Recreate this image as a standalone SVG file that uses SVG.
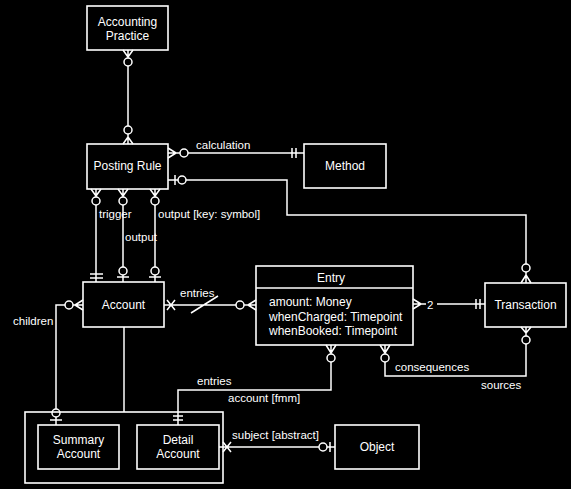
<svg xmlns="http://www.w3.org/2000/svg" width="571" height="489" viewBox="0 0 571 489">
<style>
.bx{fill:none;stroke:#fff;stroke-width:1.6}
.ln{fill:none;stroke:#fff;stroke-width:1.5}
.c{fill:#000;stroke:#fff;stroke-width:1.5}
text{font-family:"Liberation Sans",Arial,sans-serif;fill:#fff}
.t{font-size:12px;text-anchor:middle}
.a{font-size:12px}
.l{font-size:11.5px}
</style>
<rect width="571" height="489" fill="#000"/>
<g id="connectors">
<!-- Accounting Practice - Posting Rule -->
<path class="ln" d="M128 50V126M128 57L123 50M128 57L133 50M128 134V144M128 137L123 144M128 137L133 144"/>
<circle class="c" cx="128" cy="62" r="4"/>
<circle class="c" cx="128" cy="130" r="4"/>
<!-- calculation -->
<path class="ln" d="M168 153H304M176 153L168 148M176 153L168 158M292 148V158M296 148V158"/>
<circle class="c" cx="184" cy="153" r="4"/>
<text class="l" x="196" y="149">calculation</text>
<!-- Posting Rule - Transaction -->
<path class="ln" d="M168 180H287V215H526V283M175 175V185M526 275L521 283M526 275L531 283"/>
<circle class="c" cx="182" cy="180" r="4"/>
<circle class="c" cx="526" cy="268" r="4"/>
<!-- trigger -->
<path class="ln" d="M96 189V282M96 196L91 189M96 196L101 189M90 274H103M90 278H103"/>
<circle class="c" cx="96" cy="201" r="4"/>
<text class="l" x="99" y="218">trigger</text>
<!-- output -->
<path class="ln" d="M123 189V282M123 196L118 189M123 196L128 189M117 277H129"/>
<circle class="c" cx="123" cy="201" r="4"/>
<circle class="c" cx="123" cy="271" r="4"/>
<text class="l" x="125" y="241">output</text>
<!-- output [key: symbol] -->
<path class="ln" d="M155 189V282M155 196L150 189M155 196L160 189M149 277H161"/>
<circle class="c" cx="155" cy="201" r="4"/>
<circle class="c" cx="155" cy="271" r="4"/>
<text class="l" x="158" y="218">output  [key:  symbol]</text>
<!-- Account - Entry -->
<path class="ln" d="M164 305H256M167 300L175 310M167 310L175 300M191 313L218 296M248 305L256 300M248 305L256 310"/>
<circle class="c" cx="240" cy="305" r="4"/>
<text class="l" x="180" y="297">entries</text>
<!-- children -->
<path class="ln" d="M83 305H56V425M75 305L83 300M75 305L83 310M50 420H62"/>
<circle class="c" cx="69" cy="305" r="4"/>
<circle class="c" cx="56" cy="413" r="4"/>
<text class="l" x="13" y="325">children</text>
<!-- Account - generalization box -->
<path class="ln" d="M124 327V412"/>
<!-- Entry - Transaction -->
<path class="ln" d="M413 304H426M437 304H485M421 304L413 299M421 304L413 309M476 299V309M480 299V309"/>
<text class="l" x="427" y="309">2</text>
<!-- Entry - Detail Account -->
<path class="ln" d="M331 345V390H178V425M331 353L326 345M331 353L336 345M173 416H183M173 420H183"/>
<circle class="c" cx="331" cy="358" r="4"/>
<text class="l" x="197" y="385">entries</text>
<text class="l" x="228" y="402">account  [fmm]</text>
<!-- consequences / sources -->
<path class="ln" d="M385 345V376H526V327M385 353L380 345M385 353L390 345M526 333L521 327M526 333L531 327"/>
<circle class="c" cx="385" cy="358" r="4"/>
<circle class="c" cx="526" cy="340" r="4"/>
<text class="l" x="395" y="371">consequences</text>
<text class="l" x="481" y="389">sources</text>
<!-- subject -->
<path class="ln" d="M219 447H335M223 442L231 452M223 452L231 442M330 442V452"/>
<circle class="c" cx="323" cy="447" r="4"/>
<text class="l" x="232" y="439">subject  [abstract]</text>
</g>
<g id="accounting-practice">
<rect class="bx" x="87" y="6" width="81" height="44"/>
<text class="t" x="127.5" y="26">Accounting</text>
<text class="t" x="127.5" y="40">Practice</text>
</g>
<g id="posting-rule">
<rect class="bx" x="87" y="144" width="81" height="45"/>
<text class="t" x="127.5" y="170">Posting  Rule</text>
</g>
<g id="method">
<rect class="bx" x="304" y="144" width="82" height="44"/>
<text class="t" x="345" y="170">Method</text>
</g>
<g id="account">
<rect class="bx" x="83" y="282" width="81" height="45"/>
<text class="t" x="123.5" y="309">Account</text>
</g>
<g id="entry">
<rect class="bx" x="256" y="266" width="157" height="79"/>
<path class="ln" d="M256 288H413"/>
<text class="t" x="331" y="282">Entry</text>
<text class="a" x="269" y="306">amount:  Money</text>
<text class="a" x="269" y="320.5">whenCharged:  Timepoint</text>
<text class="a" x="269" y="335">whenBooked:  Timepoint</text>
</g>
<g id="transaction">
<rect class="bx" x="485" y="283" width="81" height="44"/>
<text class="t" x="525.5" y="309">Transaction</text>
</g>
<g id="account-types">
<rect class="bx" x="25" y="412" width="198" height="71"/>
</g>
<g id="summary-account">
<rect class="bx" x="38" y="425" width="81" height="44"/>
<text class="t" x="78.5" y="444">Summary</text>
<text class="t" x="78.5" y="458">Account</text>
</g>
<g id="detail-account">
<rect class="bx" x="137" y="425" width="82" height="44"/>
<text class="t" x="178" y="444">Detail</text>
<text class="t" x="178" y="458">Account</text>
</g>
<g id="object">
<rect class="bx" x="335" y="425" width="84" height="44"/>
<text class="t" x="377" y="451">Object</text>
</g>
</svg>
